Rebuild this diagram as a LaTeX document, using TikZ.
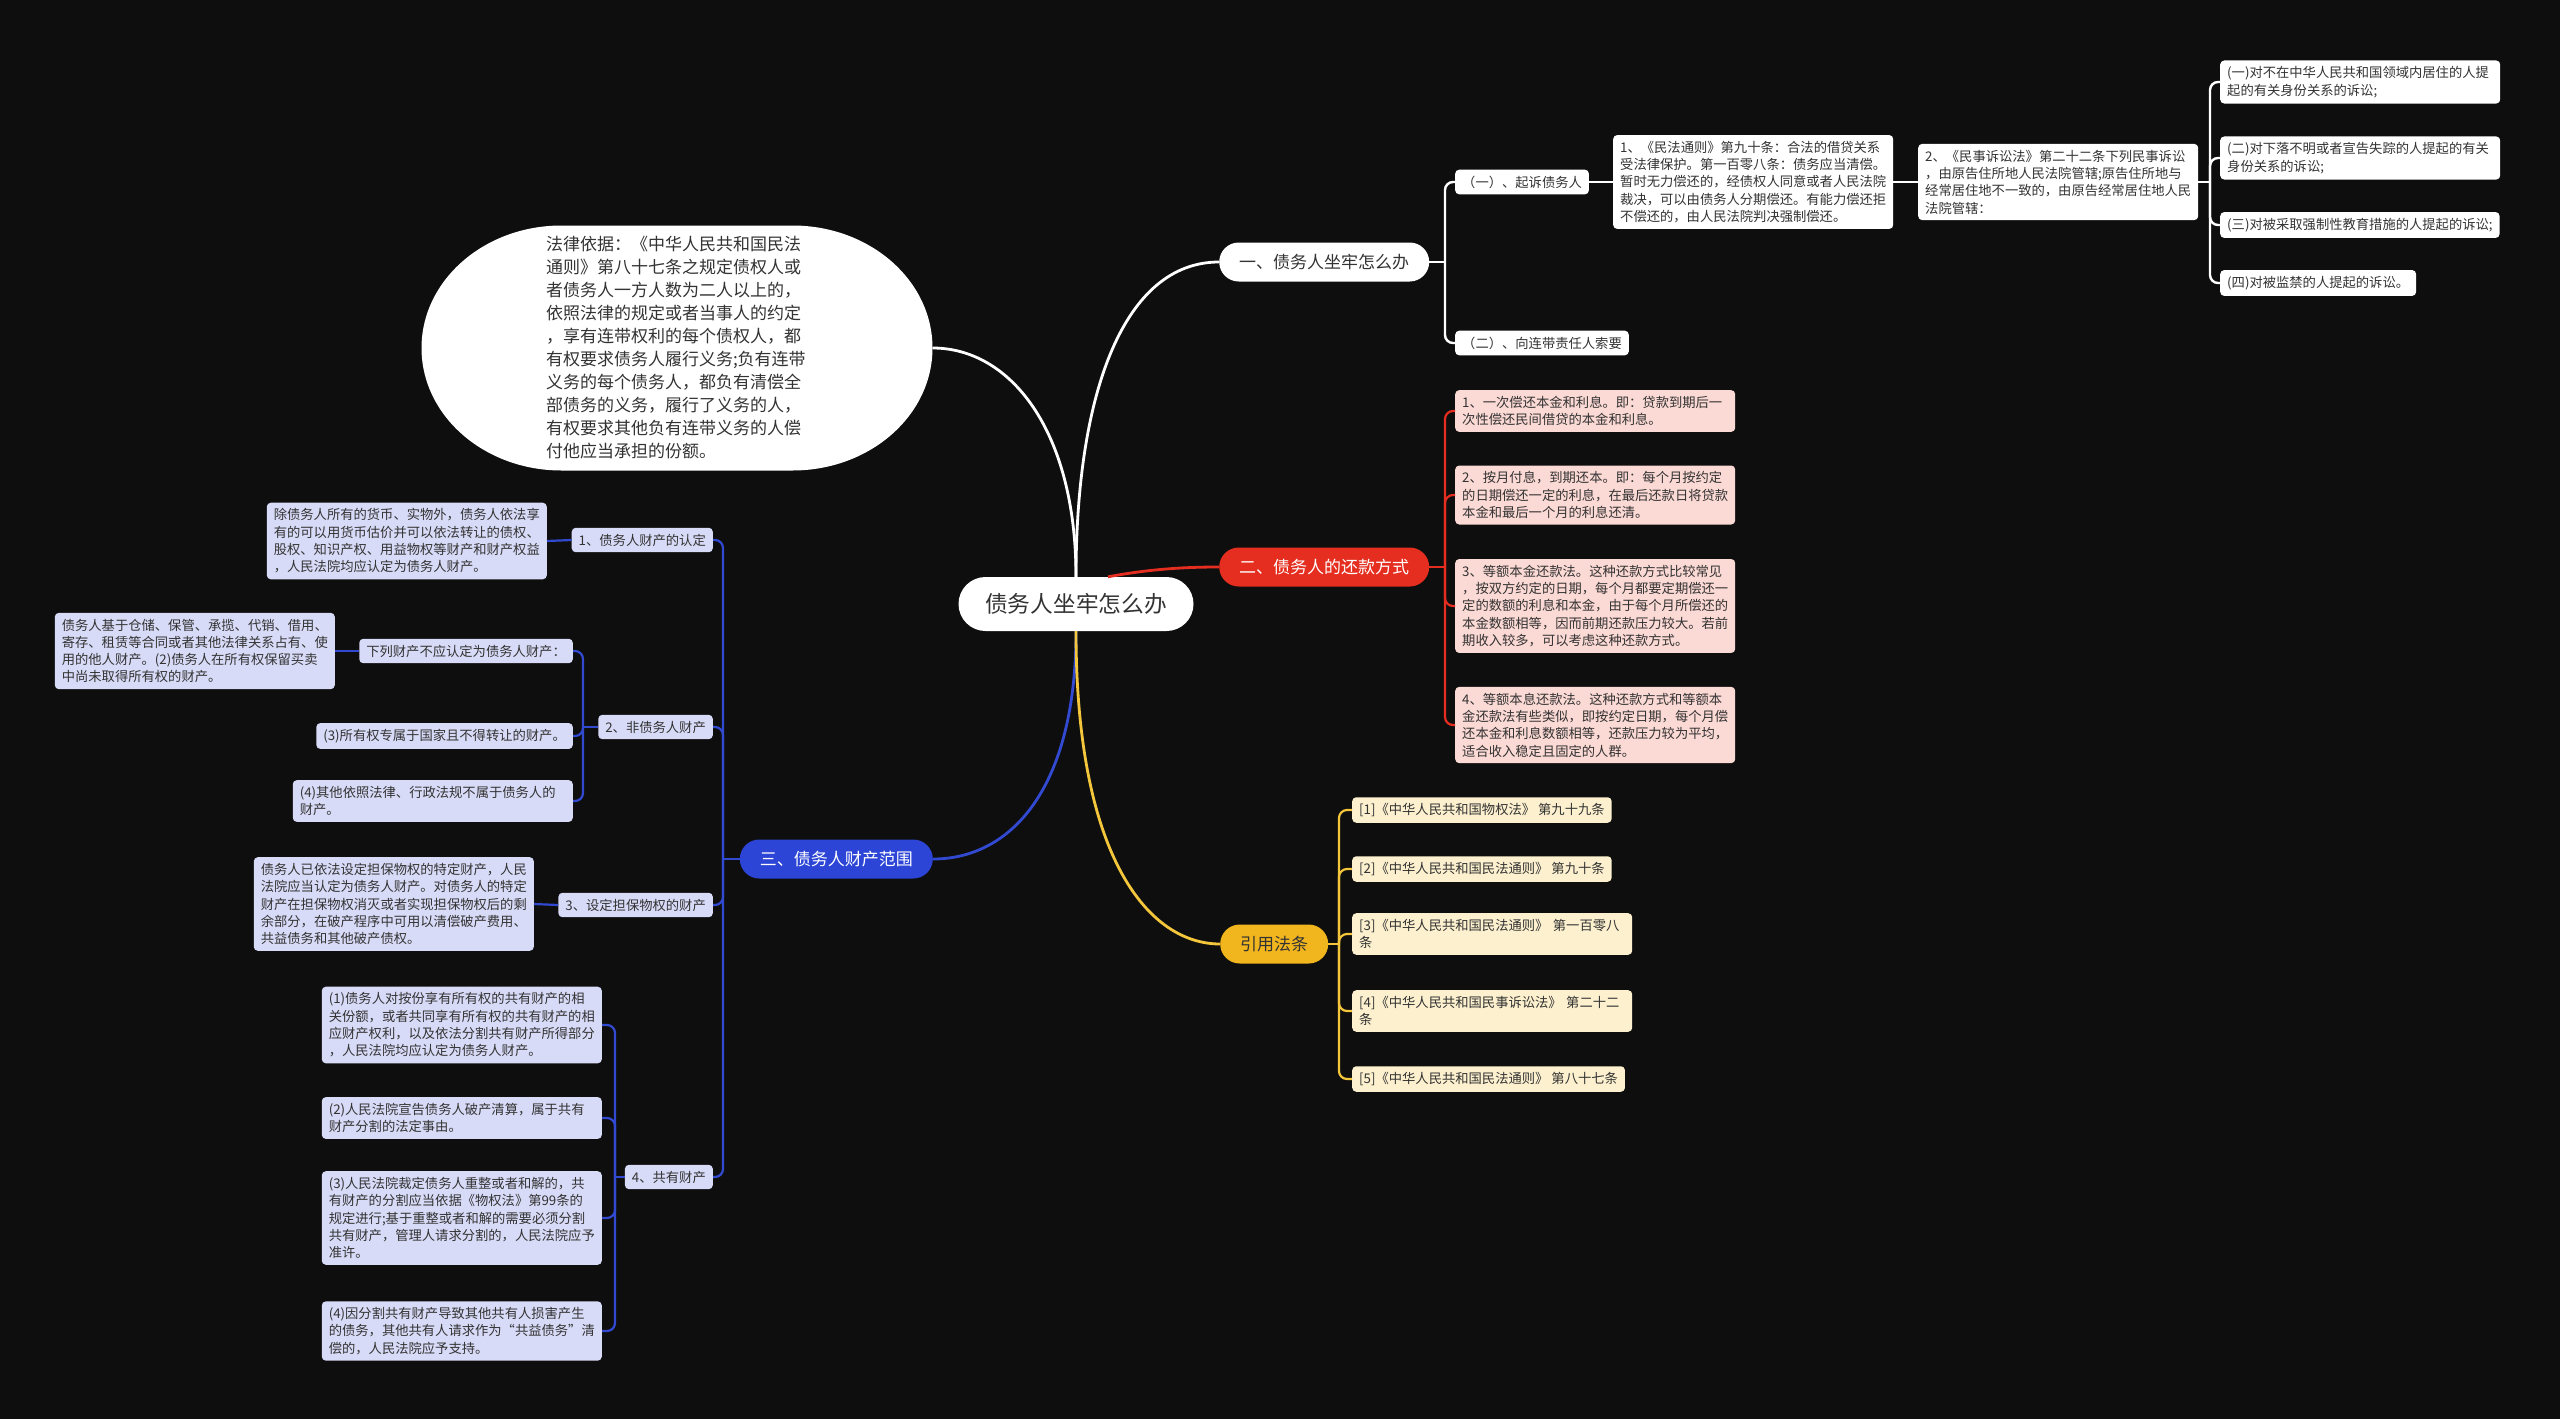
\documentclass[tikz,border=0pt]{standalone}
\usepackage{fontspec}
\setmainfont{Noto Sans CJK SC}
\usetikzlibrary{positioning}
\definecolor{bg}{HTML}{0E0E0E}
\definecolor{ink}{HTML}{333333}
\definecolor{redm}{HTML}{E52E1F}
\definecolor{bluem}{HTML}{2C45D6}
\definecolor{yelm}{HTML}{F1B51E}
\definecolor{yelline}{HTML}{F4C63C}
\definecolor{blueline}{HTML}{3249D1}
\definecolor{pinkleaf}{HTML}{FBD9D4}
\definecolor{blueleaf}{HTML}{D8DBF7}
\definecolor{yelleaf}{HTML}{FCF0CE}
\begin{document}
\begin{tikzpicture}[x=1pt,y=-1pt,
  main/.style={rounded corners=19.5pt,minimum height=39pt,inner xsep=20pt,inner ysep=0pt,font=\fontsize{17}{20}\selectfont},
  leaf/.style={rounded corners=4pt,inner xsep=7pt,inner ysep=6pt,align=left,text=ink,font=\fontsize{13.3}{17.3}\selectfont},
  wide/.style={text width=266pt},
  wleaf/.style={leaf,fill=white},
  rleaf/.style={leaf,fill=pinkleaf},
  bleaf/.style={leaf,fill=blueleaf},
  yleaf/.style={leaf,fill=yelleaf},
  wline/.style={draw=white,line width=2.4pt},
  rline/.style={draw=redm,line width=2.2pt},
  bline/.style={draw=blueline,line width=2.2pt},
  yline/.style={draw=yelline,line width=2.2pt},
  elbow/.style={rounded corners=8pt}]
\fill[bg] (0,0) rectangle (2560,1419);
\useasboundingbox (0,0) rectangle (2560,1419);

% centre and main branches
\node[fill=white,text=ink,rounded corners=27pt,minimum width=235pt,minimum height=54pt,inner sep=0pt,
  font=\fontsize{22.7}{26}\selectfont] (root) at (1076,604) {债务人坐牢怎么办};
\node[main,fill=white,text=ink,anchor=west] (jail) at (1219,262) {一、债务人坐牢怎么办};
\node[main,fill=redm,text=white,anchor=west] (repay) at (1219,567) {二、债务人的还款方式};
\node[main,fill=bluem,text=white,anchor=east] (assets) at (933,859) {三、债务人财产范围};
\node[main,fill=yelm,text=ink,anchor=west] (laws) at (1220,944) {引用法条};

% legal basis bubble
\fill[white] (561.5,225.5) -- (792.5,225.5)
  arc[start angle=-90,end angle=90,x radius=140,y radius=122.5] -- (561.5,470.5)
  arc[start angle=90,end angle=270,x radius=140,y radius=122.5] -- cycle;
\node[minimum width=511pt,minimum height=245pt,text width=262pt,align=left,text=ink,
  font=\fontsize{17}{23}\selectfont] (basis) at (677,348)
  {法律依据：《中华人民共和国民法\\通则》第八十七条之规定债权人或\\者债务人一方人数为二人以上的，\\依照法律的规定或者当事人的约定\\，享有连带权利的每个债权人，都\\有权要求债务人履行义务;负有连带\\义务的每个债务人，都负有清偿全\\部债务的义务，履行了义务的人，\\有权要求其他负有连带义务的人偿\\付他应当承担的份额。};

% branch one
\node[wleaf,anchor=west] (sue) at (1455,182) {（一）、起诉债务人};
\node[wleaf,anchor=west] (joint) at (1455,343) {（二）、向连带责任人索要};
\node[wleaf,wide,anchor=west] (civil) at (1613,182)
  {1、《民法通则》第九十条：合法的借贷关系\\受法律保护。第一百零八条：债务应当清偿。\\暂时无力偿还的，经债权人同意或者人民法院\\裁决，可以由债务人分期偿还。有能力偿还拒\\不偿还的，由人民法院判决强制偿还。};
\node[wleaf,wide,anchor=west] (proc) at (1918,182)
  {2、《民事诉讼法》第二十二条下列民事诉讼\\，由原告住所地人民法院管辖;原告住所地与\\经常居住地不一致的，由原告经常居住地人民\\法院管辖：};
\node[wleaf,wide,anchor=west] (case1) at (2220,82) {(一)对不在中华人民共和国领域内居住的人提\\起的有关身份关系的诉讼;};
\node[wleaf,wide,anchor=west] (case2) at (2220,158) {(二)对下落不明或者宣告失踪的人提起的有关\\身份关系的诉讼;};
\node[wleaf,anchor=west] (case3) at (2220,225) {(三)对被采取强制性教育措施的人提起的诉讼;};
\node[wleaf,anchor=west] (case4) at (2220,283) {(四)对被监禁的人提起的诉讼。};

% branch two
\node[rleaf,wide,anchor=west] (pay1) at (1455,411) {1、一次偿还本金和利息。即：贷款到期后一\\次性偿还民间借贷的本金和利息。};
\node[rleaf,wide,anchor=west] (pay2) at (1455,495) {2、按月付息，到期还本。即：每个月按约定\\的日期偿还一定的利息，在最后还款日将贷款\\本金和最后一个月的利息还清。};
\node[rleaf,wide,anchor=west] (pay3) at (1455,606) {3、等额本金还款法。这种还款方式比较常见\\，按双方约定的日期，每个月都要定期偿还一\\定的数额的利息和本金，由于每个月所偿还的\\本金数额相等，因而前期还款压力较大。若前\\期收入较多，可以考虑这种还款方式。};
\node[rleaf,wide,anchor=west] (pay4) at (1455,725) {4、等额本息还款法。这种还款方式和等额本\\金还款法有些类似，即按约定日期，每个月偿\\还本金和利息数额相等，还款压力较为平均，\\适合收入稳定且固定的人群。};

% cited articles
\node[yleaf,anchor=west] (ref1) at (1352,810) {[1]《中华人民共和国物权法》 第九十九条};
\node[yleaf,anchor=west] (ref2) at (1352,869) {[2]《中华人民共和国民法通则》 第九十条};
\node[yleaf,wide,anchor=west] (ref3) at (1352,934) {[3]《中华人民共和国民法通则》 第一百零八\\条};
\node[yleaf,wide,anchor=west] (ref4) at (1352,1011) {[4]《中华人民共和国民事诉讼法》 第二十二\\条};
\node[yleaf,anchor=west] (ref5) at (1352,1079) {[5]《中华人民共和国民法通则》 第八十七条};

% branch three
\node[bleaf,anchor=east] (own) at (713,540) {1、债务人财产的认定};
\node[bleaf,wide,anchor=east] (ownTxt) at (547,541) {除债务人所有的货币、实物外，债务人依法享\\有的可以用货币估价并可以依法转让的债权、\\股权、知识产权、用益物权等财产和财产权益\\，人民法院均应认定为债务人财产。};
\node[bleaf,anchor=east] (notOwn) at (713,727) {2、非债务人财产};
\node[bleaf,anchor=east] (notA) at (573,651) {下列财产不应认定为债务人财产：};
\node[bleaf,wide,anchor=east] (notATxt) at (335,651) {债务人基于仓储、保管、承揽、代销、借用、\\寄存、租赁等合同或者其他法律关系占有、使\\用的他人财产。(2)债务人在所有权保留买卖\\中尚未取得所有权的财产。};
\node[bleaf,anchor=east] (notB) at (573,736) {(3)所有权专属于国家且不得转让的财产。};
\node[bleaf,wide,anchor=east] (notC) at (573,801) {(4)其他依照法律、行政法规不属于债务人的\\财产。};
\node[bleaf,anchor=east] (secured) at (713,905) {3、设定担保物权的财产};
\node[bleaf,wide,anchor=east] (securedTxt) at (534,904) {债务人已依法设定担保物权的特定财产，人民\\法院应当认定为债务人财产。对债务人的特定\\财产在担保物权消灭或者实现担保物权后的剩\\余部分，在破产程序中可用以清偿破产费用、\\共益债务和其他破产债权。};
\node[bleaf,anchor=east] (common) at (713,1177) {4、共有财产};
\node[bleaf,wide,anchor=east] (com1) at (602,1025) {(1)债务人对按份享有所有权的共有财产的相\\关份额，或者共同享有所有权的共有财产的相\\应财产权利，以及依法分割共有财产所得部分\\，人民法院均应认定为债务人财产。};
\node[bleaf,wide,anchor=east] (com2) at (602,1118) {(2)人民法院宣告债务人破产清算，属于共有\\财产分割的法定事由。};
\node[bleaf,wide,anchor=east] (com3) at (602,1218) {(3)人民法院裁定债务人重整或者和解的，共\\有财产的分割应当依据《物权法》第99条的\\规定进行;基于重整或者和解的需要必须分割\\共有财产，管理人请求分割的，人民法院应予\\准许。};
\node[bleaf,wide,anchor=east] (com4) at (602,1331) {(4)因分割共有财产导致其他共有人损害产生\\的债务，其他共有人请求作为“共益债务”清\\偿的，人民法院应予支持。};

% connectors from the centre
\draw[wline,line width=2.8pt] (root.north) .. controls (1076,390) and (1125,262) .. (jail.west);
\draw[wline,line width=2.8pt] (root.north) .. controls (1076,430) and (1010,348) .. (basis.east);
\draw[rline,line width=2.8pt] ([xshift=32pt]root.north) .. controls (1150,569) and (1185,567) .. (repay.west);
\draw[bline,line width=2.8pt] (root.south) .. controls (1076,790) and (1010,859) .. (assets.east);
\draw[yline,line width=2.8pt] (root.south) .. controls (1076,860) and (1150,944) .. (laws.west);

% forks
\coordinate (jailFork) at (1445,262);
\coordinate (procFork) at (2210,182);
\coordinate (repayFork) at (1445,567);
\coordinate (lawsFork) at (1339,944);
\coordinate (assetsFork) at (723,859);
\coordinate (notFork) at (583,727);
\coordinate (comFork) at (615,1177);

\draw[wline] (jail.east) -- (jailFork);
\foreach \n in {sue,joint} \draw[wline,elbow] (jailFork) |- (\n.west);
\draw[wline] (sue.east) -- (civil.west);
\draw[wline] (civil.east) -- (proc.west);
\draw[wline] (proc.east) -- (procFork);
\foreach \n in {case1,case2,case3,case4} \draw[wline,elbow] (procFork) |- (\n.west);

\draw[rline] (repay.east) -- (repayFork);
\foreach \n in {pay1,pay2,pay3,pay4} \draw[rline,elbow] (repayFork) |- (\n.west);

\draw[yline] (laws.east) -- (lawsFork);
\foreach \n in {ref1,ref2,ref3,ref4,ref5} \draw[yline,elbow] (lawsFork) |- (\n.west);

\draw[bline] (assets.west) -- (assetsFork);
\foreach \n in {own,notOwn,secured,common} \draw[bline,elbow] (assetsFork) |- (\n.east);
\draw[bline] (own.west) -- (ownTxt.east);
\draw[bline] (notOwn.west) -- (notFork);
\foreach \n in {notA,notB,notC} \draw[bline,elbow] (notFork) |- (\n.east);
\draw[bline] (notA.west) -- (notATxt.east);
\draw[bline] (secured.west) -- (securedTxt.east);
\draw[bline] (common.west) -- (comFork);
\foreach \n in {com1,com2,com3,com4} \draw[bline,elbow] (comFork) |- (\n.east);
\end{tikzpicture}
\end{document}
